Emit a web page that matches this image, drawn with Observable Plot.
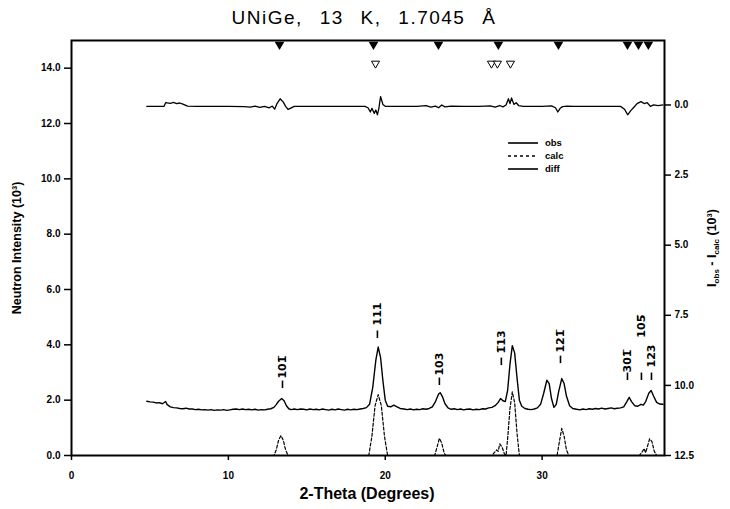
<!DOCTYPE html>
<html><head><meta charset="utf-8">
<script src="https://cdn.jsdelivr.net/npm/d3@7"></script>
<script src="https://cdn.jsdelivr.net/npm/@observablehq/plot@0.6"></script>
<style>body{margin:0;background:#fff} svg{display:block;background:#fff}</style>
</head><body><div id="chart"></div>
<script>
// observed intensity (10^3 counts) vs 2-theta (deg)
const obs = [
[4.8,1.96],[5.0,1.94],[5.2,1.93],[5.4,1.90],[5.6,1.91],[5.8,1.87],[6.0,1.95],[6.1,1.84],[6.3,1.76],[6.5,1.73],[6.7,1.72],[6.9,1.70],[7.1,1.69],[7.3,1.71],[7.5,1.68],[7.7,1.68],[7.9,1.66],[8.1,1.67],[8.3,1.65],[8.5,1.66],[8.7,1.64],[8.9,1.66],[9.1,1.63],[9.3,1.65],[9.5,1.64],[9.7,1.66],[9.9,1.63],[10.1,1.65],[10.3,1.67],[10.5,1.68],[10.7,1.66],[10.9,1.68],[11.1,1.66],[11.3,1.67],[11.5,1.65],[11.7,1.67],[11.9,1.64],[12.1,1.66],[12.3,1.65],[12.5,1.67],[12.7,1.69],[12.9,1.74],[13.05,1.84],[13.2,1.96],[13.4,2.06],[13.55,1.98],[13.7,1.80],[13.85,1.69],[14.0,1.66],[14.2,1.68],[14.4,1.66],[14.6,1.68],[14.8,1.67],[15.0,1.65],[15.2,1.68],[15.4,1.66],[15.6,1.67],[15.8,1.65],[16.0,1.68],[16.2,1.66],[16.4,1.64],[16.6,1.67],[16.8,1.65],[17.0,1.68],[17.2,1.66],[17.4,1.64],[17.6,1.67],[17.8,1.65],[18.0,1.67],[18.2,1.66],[18.4,1.68],[18.6,1.70],[18.8,1.73],[19.0,1.85],[19.2,2.45],[19.4,3.45],[19.55,3.92],[19.7,3.55],[19.85,2.7],[20.0,2.0],[20.15,1.78],[20.35,1.76],[20.55,1.82],[20.75,1.76],[20.95,1.70],[21.2,1.68],[21.4,1.66],[21.6,1.68],[21.8,1.65],[22.0,1.67],[22.2,1.66],[22.4,1.69],[22.6,1.67],[22.8,1.70],[23.0,1.76],[23.2,1.95],[23.4,2.22],[23.5,2.27],[23.65,2.12],[23.8,1.88],[24.0,1.72],[24.2,1.67],[24.4,1.69],[24.6,1.66],[24.8,1.68],[25.0,1.65],[25.2,1.67],[25.4,1.68],[25.6,1.65],[25.8,1.67],[26.0,1.66],[26.2,1.69],[26.4,1.68],[26.6,1.72],[26.8,1.74],[27.0,1.80],[27.2,1.92],[27.35,2.06],[27.5,1.98],[27.65,1.95],[27.8,2.35],[27.95,3.3],[28.1,3.97],[28.25,3.7],[28.4,2.8],[28.55,2.0],[28.7,1.78],[28.9,1.70],[29.1,1.67],[29.3,1.66],[29.5,1.68],[29.7,1.72],[29.9,1.85],[30.1,2.25],[30.3,2.72],[30.45,2.6],[30.6,2.05],[30.75,1.74],[30.9,1.85],[31.05,2.3],[31.25,2.78],[31.4,2.6],[31.55,2.15],[31.75,1.80],[31.95,1.70],[32.2,1.67],[32.4,1.65],[32.6,1.68],[32.8,1.66],[33.0,1.69],[33.2,1.67],[33.4,1.70],[33.6,1.68],[33.8,1.71],[34.0,1.68],[34.2,1.70],[34.4,1.72],[34.6,1.69],[34.8,1.71],[35.0,1.72],[35.2,1.76],[35.4,1.95],[35.55,2.1],[35.7,1.95],[35.9,1.80],[36.1,1.78],[36.3,1.85],[36.45,1.82],[36.6,1.95],[36.8,2.25],[36.95,2.35],[37.1,2.15],[37.3,1.92],[37.5,1.86],[37.7,1.85]
];
// calculated pattern (10^3)
const calc = [
[4.8,0],[12.9,0],[13.05,0.2],[13.2,0.55],[13.35,0.72],[13.5,0.55],[13.65,0.2],[13.8,0],
[18.95,0],[19.15,0.7],[19.35,1.8],[19.55,2.2],[19.75,1.8],[19.95,0.7],[20.15,0],
[23.15,0],[23.3,0.3],[23.45,0.62],[23.6,0.45],[23.75,0.1],[23.85,0],
[26.8,0],[26.95,0.1],[27.1,0.2],[27.2,0.15],[27.3,0.42],[27.45,0.3],[27.6,0.05],[27.7,0],
[27.8,0.6],[27.95,1.7],[28.1,2.3],[28.25,1.9],[28.4,0.8],[28.55,0],
[30.95,0],[31.1,0.5],[31.25,0.98],[31.4,0.7],[31.55,0.2],[31.7,0],
[36.2,0],[36.4,0.15],[36.5,0.25],[36.6,0.1],[36.7,0.3],[36.85,0.6],[37.0,0.5],[37.15,0.15],[37.3,0],[37.7,0]
];
// difference I_obs - I_calc (10^3), positive = upward
const diff = [
[4.8,-0.05],[5.9,-0.05],[6.0,0.08],[6.3,0.06],[6.5,0.09],[6.7,0.05],[6.9,0.07],[7.1,0.03],[7.4,-0.04],[8.0,-0.05],[9.0,-0.05],[10.0,-0.05],[11.0,-0.06],[11.4,-0.08],[11.7,-0.04],[12.0,-0.09],[12.3,-0.05],[12.6,-0.1],[12.8,-0.04],[12.95,-0.15],[13.1,0.05],[13.3,0.22],[13.5,0.1],[13.65,-0.05],[13.8,-0.16],[13.95,-0.12],[14.2,-0.05],[15,-0.05],[16,-0.05],[17,-0.05],[18,-0.05],[18.7,-0.05],[18.9,-0.1],[19.05,-0.25],[19.15,-0.12],[19.3,-0.3],[19.4,-0.18],[19.5,-0.35],[19.6,-0.1],[19.7,0.3],[19.85,0.02],[20.0,-0.05],[21,-0.05],[22.0,-0.05],[22.6,-0.02],[22.9,-0.08],[23.2,-0.04],[23.4,-0.1],[23.6,0.0],[23.8,-0.07],[24.2,-0.04],[25,-0.05],[26,-0.05],[26.7,-0.03],[27.0,-0.08],[27.3,-0.02],[27.5,-0.07],[27.7,0.0],[27.85,0.22],[27.95,0.05],[28.05,0.25],[28.2,0.02],[28.35,0.08],[28.5,-0.02],[28.8,-0.05],[30,-0.05],[30.6,-0.03],[30.85,-0.1],[31.0,-0.25],[31.15,-0.12],[31.3,-0.06],[31.6,-0.04],[32,-0.05],[34,-0.05],[35.0,-0.05],[35.25,-0.15],[35.45,-0.35],[35.65,-0.2],[35.85,-0.08],[36.05,0.05],[36.3,0.12],[36.5,0.05],[36.7,0.08],[36.9,-0.05],[37.1,0.0],[37.4,-0.02],[37.7,0.0]
];
// reflection markers (2-theta)
const phase1Marks = [13.26, 19.25, 23.39, 27.21, 31.04, 35.44, 36.14, 36.77];
const phase2Marks = [19.38, 26.77, 27.15, 27.98];
// hkl labels
const hklText = ["10\u0031\u0305", "111", "103", "1\u0305\u0031\u0033", "12\u0031\u0305", "30\u0031\u0305", "10\u0035\u0305", "123"];
const hklTheta = [13.45, 19.5, 23.45, 27.4, 31.17, 35.44, 36.33, 36.97];
const hklDashBase = [2.42, 4.23, 2.53, 3.25, 3.32, 2.71, 2.71, 2.71];
const hklTextBase = [2.78, 4.70, 2.89, 3.69, 3.72, 3.00, 4.26, 3.18];
// axes
const leftTicks = [0, 2, 4, 6, 8, 10, 12, 14];
const rightTicks = [0, 2.5, 5, 7.5, 10, 12.5];
const xTicks = [0, 10, 20, 30];
const diffZero = 12.67;   // left-axis level where I_obs - I_calc = 0
const rightMax = 12.5;
const toLeft = r => diffZero * (1 - r / rightMax);
const fromLeft = v => rightMax * (1 - v / diffZero);

const FONT = "'Liberation Sans', Arial, sans-serif";
const labels = hklText.map((t, i) => ({t, x: hklTheta[i], d: hklDashBase[i], b: hklTextBase[i]}));

const svg = Plot.plot({
  width: 730, height: 509,
  marginLeft: 71, marginRight: 66, marginTop: 40, marginBottom: 54,
  style: {fontFamily: FONT, fontSize: "10px", fontWeight: "bold", color: "#000", background: "#fff"},
  x: {domain: [0, 37.8]},
  y: {domain: [0, 15]},
  marks: [
    Plot.axisX({ticks: xTicks, tickFormat: d => String(d), tickSize: 5, tickPadding: 11, label: null, strokeWidth: 1.5}),
    Plot.axisY({anchor: "left", ticks: leftTicks, tickFormat: d => d.toFixed(1), tickSize: 7, tickPadding: 4, label: null, strokeWidth: 1.5}),
    Plot.axisY({anchor: "right", ticks: rightTicks.map(toLeft), tickFormat: d => (Math.round(fromLeft(d) * 10) / 10).toFixed(1), tickSize: 6, tickPadding: 4, label: null, strokeWidth: 1.5}),
    Plot.frame({stroke: "#000", strokeWidth: 2}),
    Plot.line(calc, {x: d => d[0], y: d => d[1], stroke: "#000", strokeWidth: 1.2, strokeDasharray: "3,2"}),
    Plot.line(obs, {x: d => d[0], y: d => d[1], stroke: "#000", strokeWidth: 1.4}),
    Plot.line(diff, {x: d => d[0], y: d => toLeft(-d[1]), stroke: "#000", strokeWidth: 1.3}),
    Plot.dot(phase1Marks, {x: d => d, frameAnchor: "top", dy: 4, symbol: "triangle", rotate: 180, r: 3.6, fill: "#000", stroke: "none"}),
    Plot.dot(phase2Marks, {x: d => d, frameAnchor: "top", dy: 23, symbol: "triangle", rotate: 180, r: 3, fill: "#fff", stroke: "#000", strokeWidth: 1}),
    Plot.ruleX(labels, {x: "x", y1: "d", y2: d => d.d + 0.27, stroke: "#000", strokeWidth: 1.6}),
    Plot.text(labels, {x: "x", y: "b", text: "t", rotate: -90, textAnchor: "start", lineAnchor: "middle", fontSize: 11, fontWeight: "bold", fontFamily: "'DejaVu Sans', sans-serif", fill: "#000"})
  ]
});
document.getElementById("chart").appendChild(svg);

const s = d3.select(svg);
const txt = (x, y, size, weight) => s.append("text").attr("x", x).attr("y", y)
  .style("font-family", FONT).style("font-size", size).style("font-weight", weight);
txt(364, 24, "19px", "normal").attr("text-anchor", "middle")
  .style("letter-spacing", "1.5px").style("word-spacing", "10px")
  .text("UNiGe, 13 K, 1.7045 Å");
txt(367, 499, "16px", "bold").attr("text-anchor", "middle")
  .text("2-Theta (Degrees)");
s.append("text").attr("transform", "translate(21,248) rotate(-90)").attr("text-anchor", "middle")
  .style("font-family", FONT).style("font-size", "12.5px").style("font-weight", "bold")
  .text("Neutron Intensity (10³)");
const rl = s.append("text").attr("transform", "translate(716,248) rotate(-90)").attr("text-anchor", "middle")
  .style("font-family", FONT).style("font-size", "12.5px").style("font-weight", "bold");
rl.append("tspan").text("I");
rl.append("tspan").attr("dy", 3).style("font-size", "8px").text("obs");
rl.append("tspan").attr("dy", -3).text(" - I");
rl.append("tspan").attr("dy", 3).style("font-size", "8px").text("calc");
rl.append("tspan").attr("dy", -3).text(" (10³)");

const legendItems = [{n: "obs", dash: null, y: 143}, {n: "calc", dash: "3,3", y: 156}, {n: "diff", dash: null, y: 169}];
legendItems.forEach(it => {
  s.append("line").attr("x1", 508).attr("x2", 538).attr("y1", it.y).attr("y2", it.y)
    .attr("stroke", "#000").attr("stroke-width", 1.6).attr("stroke-dasharray", it.dash);
  txt(545, it.y, "9.5px", "bold").attr("text-anchor", "start").attr("dy", "0.35em").text(it.n);
});
</script></body></html>
